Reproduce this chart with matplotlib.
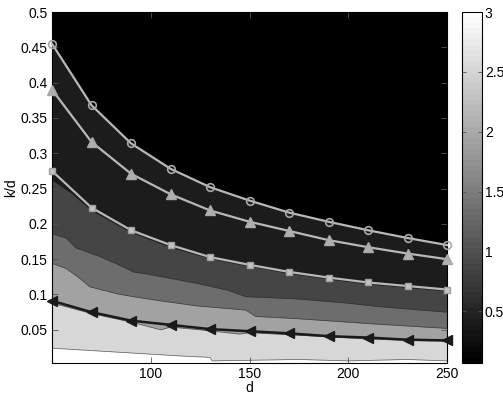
import numpy as np
import matplotlib
matplotlib.use("Agg")
import matplotlib.pyplot as plt
from matplotlib.colors import Normalize
from matplotlib.cm import ScalarMappable

plt.rcParams['font.family'] = ['Liberation Sans', 'DejaVu Sans']
plt.rcParams['font.size'] = 10

# marker curves (k/d versus d)
d_pts = [50, 70, 90, 110, 130, 150, 170, 190, 210, 230, 250]
circle_kd = [0.455, 0.368, 0.314, 0.278, 0.252, 0.233, 0.216, 0.203, 0.191, 0.180, 0.170]
triangle_kd = [0.390, 0.316, 0.271, 0.242, 0.219, 0.203, 0.190, 0.177, 0.167, 0.158, 0.150]
square_kd = [0.275, 0.223, 0.191, 0.170, 0.153, 0.142, 0.132, 0.124, 0.117, 0.112, 0.107]
black_kd = [0.091, 0.075, 0.063, 0.057, 0.051, 0.048, 0.045, 0.041, 0.039, 0.036, 0.035]

# filled contour boundaries
b2_d = [50, 60, 70, 90, 110, 130, 150, 170, 190, 210, 230, 250]
b2_kd = [0.262, 0.243, 0.219, 0.188, 0.167, 0.151, 0.140, 0.130, 0.122, 0.115, 0.110, 0.105]
b3_d = [50, 57, 62, 74, 77, 83, 91, 100, 123, 139, 148, 173, 199, 215, 250]
b3_kd = [0.186, 0.180, 0.166, 0.154, 0.150, 0.143, 0.132, 0.128, 0.116, 0.106, 0.097, 0.094, 0.088, 0.083, 0.075]
b4_d = [50, 57, 63, 69, 83, 91, 105, 123, 148, 153, 173, 199, 215, 250]
b4_kd = [0.144, 0.137, 0.125, 0.111, 0.101, 0.097, 0.091, 0.084, 0.078, 0.069, 0.066, 0.061, 0.058, 0.052]
b5_d = [50, 70, 90, 105, 110, 125, 145, 150, 170, 190, 210, 230, 250]
b5_kd = [0.088, 0.073, 0.061, 0.050, 0.054, 0.050, 0.044, 0.046, 0.043, 0.040, 0.037, 0.035, 0.034]
b6_d = [50, 115, 130, 131, 175, 200, 230, 250]
b6_kd = [0.024, 0.013, 0.011, 0.006, 0.008, 0.006, 0.008, 0.006]

# level value of each band, top to bottom
band_vals = [0.07, 0.43, 0.89, 1.33, 1.91, 2.53, 3.0]
cb_ticks = [0.5, 1, 1.5, 2, 2.5, 3]
cb_labels = ['0.5', '1', '1.5', '2', '2.5', '3']
y_ticks = [0.05, 0.1, 0.15, 0.2, 0.25, 0.3, 0.35, 0.4, 0.45, 0.5]
y_labels = ['0.05', '0.1', '0.15', '0.2', '0.25', '0.3', '0.35', '0.4', '0.45', '0.5']
x_ticks = [100, 150, 200, 250]

cmap = plt.get_cmap('gray', 64)
norm = Normalize(vmin=0.07, vmax=3.0)
ybot = 0.003

fig = plt.figure(figsize=(5.03, 4.0), dpi=100)
ax = fig.add_axes([0.1034, 0.0925, 0.7853, 0.8775])
ax.set_facecolor(cmap(norm(band_vals[0])))

bounds = [(d_pts, circle_kd), (b2_d, b2_kd), (b3_d, b3_kd),
          (b4_d, b4_kd), (b5_d, b5_kd), (b6_d, b6_kd)]
for (bd, bk), val in zip(bounds, band_vals[1:]):
    ax.fill_between(bd, ybot, bk, color=cmap(norm(val)), lw=0)
for bd, bk in bounds[1:]:
    ax.plot(bd, bk, color='#2a2a2a', lw=0.5, alpha=0.7)

lc = '#b8b8b8'
ax.plot(d_pts, circle_kd, '-o', color=lc, lw=1.6, ms=5.5, mfc='none', mec='#a8a8a8', mew=1.2, clip_on=False, zorder=5)
ax.plot(d_pts, triangle_kd, '-^', color=lc, lw=1.6, ms=6.5, mfc='#b0b0b0', mec='#a8a8a8', clip_on=False, zorder=5)
ax.plot(d_pts, square_kd, '-s', color=lc, lw=1.6, ms=5, mfc='#c4c4c4', mec='#a0a0a0', mew=1.0, clip_on=False, zorder=5)
ax.plot(d_pts, black_kd, '-<', color='#1a1a1a', lw=1.8, ms=6.5, mfc='#1a1a1a', mec='#1a1a1a', clip_on=False, zorder=5)

ax.set_xlim(50, 250)
ax.set_ylim(ybot, 0.5)
ax.set_xticks(x_ticks)
ax.set_xticklabels([str(t) for t in x_ticks])
ax.set_yticks(y_ticks)
ax.set_yticklabels(y_labels)
ax.tick_params(direction='in', top=True, right=True, length=4, width=0.6, pad=3, color='#555555')
ax.set_xlabel('d', labelpad=0)
ax.set_ylabel('k/d', labelpad=2)
for s in ax.spines.values():
    s.set_linewidth(0.8)

cax = fig.add_axes([0.9185, 0.0925, 0.0398, 0.8775])
sm = ScalarMappable(norm=norm, cmap=cmap)
cb = fig.colorbar(sm, cax=cax)
cb.set_ticks(cb_ticks)
cb.set_ticklabels(cb_labels)
cax.tick_params(direction='in', left=True, right=True, length=3, width=0.6, pad=2, color='#555555')
cb.outline.set_linewidth(0.8)

fig.savefig('out.png', dpi=100)
